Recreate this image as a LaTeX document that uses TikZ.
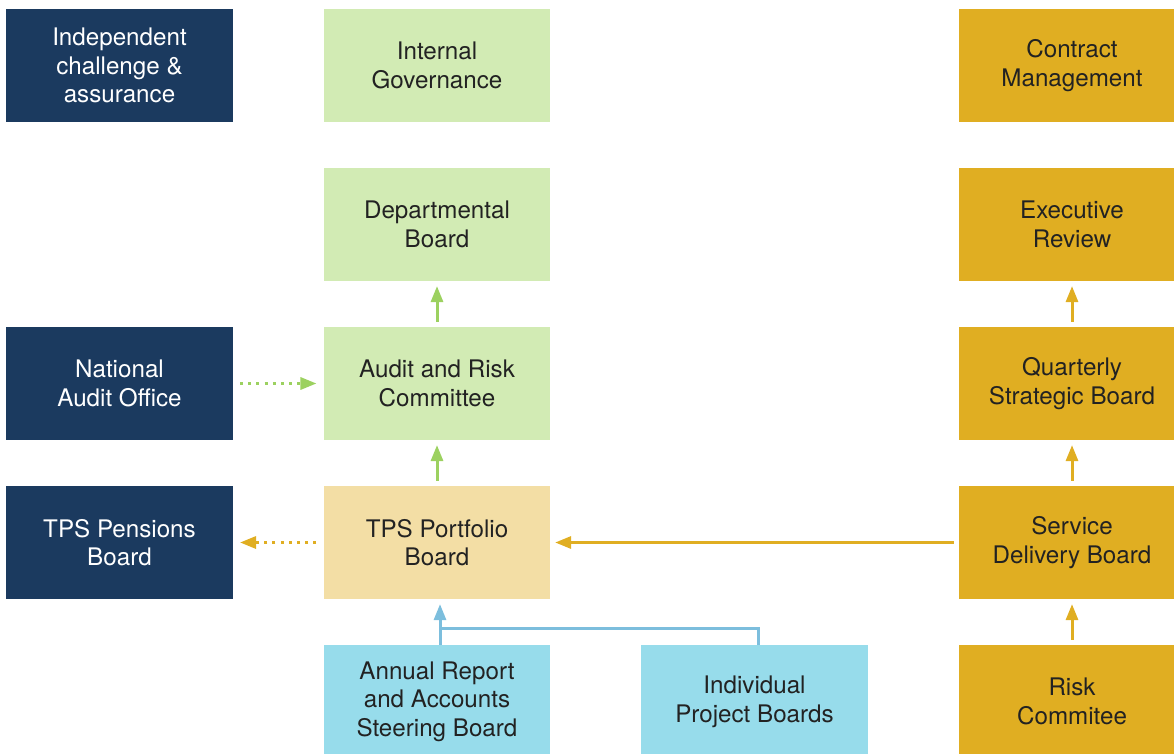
\documentclass[tikz,border=0pt]{standalone}
\usepackage{fontspec}
\setmainfont{TeX Gyre Heros}
\usetikzlibrary{arrows.meta}
\definecolor{navy}{HTML}{1B3A5F}
\definecolor{palegreen}{HTML}{D2EBB4}
\definecolor{paletan}{HTML}{F3DEA5}
\definecolor{paleblue}{HTML}{97DCEB}
\definecolor{gold}{HTML}{E0AE22}
\definecolor{arrowgreen}{HTML}{9CD160}
\definecolor{arrowblue}{HTML}{7CBEDD}
\definecolor{textdark}{HTML}{222222}
\tikzset{
 box/.style={minimum width=5.65cm, minimum height=2.825cm, inner sep=0pt, align=center,
  font=\fontsize{17.2}{20.4}\selectfont, text=textdark},
 navybox/.style={box, fill=navy, text=white},
 greenbox/.style={box, fill=palegreen},
 tanbox/.style={box, fill=paletan},
 bluebox/.style={box, fill=paleblue},
 goldbox/.style={box, fill=gold},
 flow/.style={line width=0.075cm, -{Triangle[length=0.4cm,width=0.3cm]}, shorten >=0.12cm, shorten <=0.12cm},
 dots/.style={flow, dash pattern=on 0.075cm off 0.13cm, shorten >=0.18cm, shorten <=0.18cm}
}
\begin{document}
\begin{tikzpicture}[x=0.025cm,y=-0.025cm]
\useasboundingbox (0,0) rectangle (1174,754);
\clip (0,0) rectangle (1174,754);

% left column
\node[navybox] (indep) at (119.5,65.5) {Independent\\challenge \&\\assurance};
\node[navybox] (nao) at (119.5,383.5) {National\\Audit Office};
\node[navybox] (pensions) at (119.5,542.5) {TPS Pensions\\Board};

% internal governance
\node[greenbox] (internal) at (437,65.5) {Internal\\Governance};
\node[greenbox] (dept) at (437,224.5) {Departmental\\Board};
\node[greenbox] (audit) at (437,383.5) {Audit and Risk\\Committee};
\node[tanbox] (tps) at (437,542.5) {TPS Portfolio\\Board};
\node[bluebox] (annual) at (437,701.5) {Annual Report\\and Accounts\\Steering Board};
\node[bluebox] (indiv) at (754.5,701.5) {Individual\\Project Boards};

% contract management
\node[goldbox] (contract) at (1072,65.5) {Contract\\Management};
\node[goldbox] (exec) at (1072,224.5) {Executive\\Review};
\node[goldbox] (quarterly) at (1072,383.5) {Quarterly\\Strategic Board};
\node[goldbox] (service) at (1072,542.5) {Service\\Delivery Board};
\node[goldbox] (risk) at (1072,701.5) {Risk\\Commitee};

\draw[flow,arrowgreen] (audit) -- (dept);
\draw[flow,arrowgreen] (tps) -- (audit);
\draw[dots,arrowgreen] (nao) -- (audit);
\draw[dots,gold] (tps) -- (pensions);
\draw[flow,gold] (service) -- (tps);
\draw[flow,gold] (quarterly) -- (exec);
\draw[flow,gold] (service) -- (quarterly);
\draw[flow,gold] (risk) -- (service);

\coordinate (join) at (440,628);
\draw[flow,arrowblue,shorten <=0pt] (annual.north -| join) -- (tps.south -| join);
\draw[line width=0.075cm,arrowblue] (758,645) |- (join);
\end{tikzpicture}
\end{document}
